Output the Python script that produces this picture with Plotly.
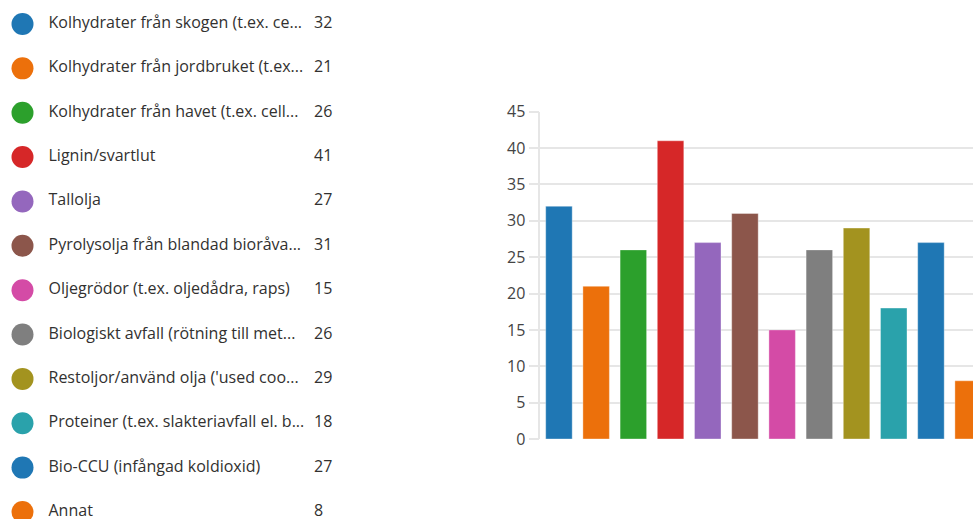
import plotly.graph_objects as go

categories = [
    "Kolhydrater från skogen (t.ex. ce...",
    "Kolhydrater från jordbruket (t.ex...",
    "Kolhydrater från havet (t.ex. cell...",
    "Lignin/svartlut",
    "Tallolja",
    "Pyrolysolja från blandad bioråva...",
    "Oljegrödor (t.ex. oljedådra, raps)",
    "Biologiskt avfall (rötning till met...",
    "Restoljor/använd olja ('used coo...",
    "Proteiner (t.ex. slakteriavfall el. b...",
    "Bio-CCU (infångad koldioxid)",
    "Annat",
]
counts = [32, 21, 26, 41, 27, 31, 15, 26, 29, 18, 27, 8]
colors = ["#1f77b4", "#ec700b", "#2ca02c", "#d62728", "#9467bd", "#8c564b",
          "#d44ba6", "#7f7f7f", "#a3931f", "#2aa2ab", "#1f77b4", "#ec700b"]
y_ticks = [0, 5, 10, 15, 20, 25, 30, 35, 40, 45]

W, H = 973, 519
FONT = "Segoe UI, Open Sans, sans-serif"
TXT = "#323130"
GRID = "#e6e6e6"

idx = list(range(len(categories)))

fig = go.Figure()

# Bars
fig.add_trace(go.Bar(
    x=idx, y=counts,
    marker=dict(color=colors, line=dict(color="rgba(255,255,255,0.35)", width=1)),
    xaxis="x", yaxis="y", showlegend=False, hoverinfo="y",
))

# Legend-like list on the left
fig.add_trace(go.Scatter(
    x=[22.5] * len(idx), y=idx, mode="markers",
    marker=dict(color=colors, size=22, line=dict(width=0)),
    xaxis="x2", yaxis="y2", showlegend=False, hoverinfo="skip",
))
fig.add_trace(go.Scatter(
    x=[48.5] * len(idx), y=idx, mode="text", text=categories,
    textposition="middle right",
    textfont=dict(family=FONT, size=16, color=TXT),
    xaxis="x2", yaxis="y2", showlegend=False, hoverinfo="skip",
))
fig.add_trace(go.Scatter(
    x=[314] * len(idx), y=idx, mode="text", text=[str(c) for c in counts],
    textposition="middle right",
    textfont=dict(family=FONT, size=16, color=TXT),
    xaxis="x2", yaxis="y2", showlegend=False, hoverinfo="skip",
))

x0_px = 540.35
pitch = 37.2
x_hi = -0.5 + (W - x0_px) / pitch
y_top_px, y_bot_px = 111.7, 439.0
row0, row_pitch = 24.0, 44.36

fig.update_layout(
    width=W, height=H,
    margin=dict(l=0, r=0, t=0, b=0, pad=0, autoexpand=False),
    paper_bgcolor="white", plot_bgcolor="white",
    bargap=1 - 26.5 / pitch,
    font=dict(family=FONT, color=TXT),
    xaxis=dict(
        domain=[x0_px / W, 1], range=[-0.5, x_hi],
        showticklabels=False, showgrid=False, zeroline=False, showline=False,
        ticks="", fixedrange=True, automargin=False,
    ),
    yaxis=dict(
        domain=[(H - y_bot_px) / H, (H - y_top_px) / H],
        range=[0, 45], tickvals=y_ticks,
        showgrid=True, gridcolor=GRID, gridwidth=1.5,
        zeroline=False,
        showline=True, linecolor=GRID, linewidth=1.5,
        ticks="outside", ticklen=10, tickcolor=GRID, tickwidth=1.5,
        tickfont=dict(family=FONT, size=16, color="#444444"),
        fixedrange=True, automargin=False,
    ),
    xaxis2=dict(
        domain=[0, 350 / W], range=[0, 350],
        visible=False, fixedrange=True, automargin=False,
    ),
    yaxis2=dict(
        domain=[0, 1],
        range=[(H - row0) / row_pitch, -row0 / row_pitch],
        visible=False, fixedrange=True,
        anchor="x2", automargin=False,
    ),
)

fig.write_html("out.html")
